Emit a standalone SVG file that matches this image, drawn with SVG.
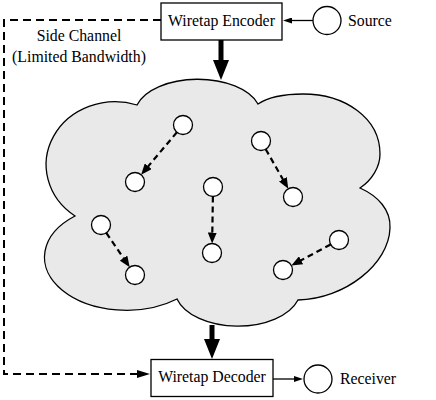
<svg xmlns="http://www.w3.org/2000/svg" width="436" height="400" viewBox="0 0 436 400">
<style>
  text { font-family: "Liberation Serif", "Times New Roman", serif; font-size: 15.8px; fill: #000; }
  .box { fill: #fff; stroke: #000; stroke-width: 1.3; }
  .node { fill: #fff; stroke: #000; stroke-width: 1.3; }
  .cloud { fill: #e9e9e9; stroke: #000; stroke-width: 1.3; }
  .thick { stroke: #000; stroke-width: 5; fill: none; }
  .side { stroke: #000; stroke-width: 2; fill: none; stroke-dasharray: 8 5; }
  .inner { stroke: #000; stroke-width: 2.2; fill: none; stroke-dasharray: 6 4; }
  .thin { stroke: #000; stroke-width: 1.3; fill: none; }
</style>
<defs>
  <marker id="big" markerUnits="userSpaceOnUse" viewBox="0 0 20 16" markerWidth="20" markerHeight="16" refX="6" refY="8" orient="auto">
    <path d="M0,0 L20,8 L0,16 z" fill="#000"/>
  </marker>
  <marker id="med" markerUnits="userSpaceOnUse" viewBox="0 0 13 8" markerWidth="13" markerHeight="8" refX="7" refY="4" orient="auto">
    <path d="M0,0 L13,4 L0,8 z" fill="#000"/>
  </marker>
  <marker id="small" markerUnits="userSpaceOnUse" viewBox="0 0 11 9" markerWidth="11" markerHeight="9" refX="7" refY="4.5" orient="auto">
    <path d="M0,0 L11,4.5 L0,9 z" fill="#000"/>
  </marker>
  <marker id="thinhead" markerUnits="userSpaceOnUse" viewBox="0 0 9 6" markerWidth="9" markerHeight="6" refX="5" refY="3" orient="auto">
    <path d="M0,0 L9,3 L0,6 z" fill="#000"/>
  </marker>
</defs>

<g id="network">
  <path class="cloud" d="M137,105 A63,35 0 0 1 258,104 C270,96 285,94 303,94 C345,94 380,118 380,154 C380,167 372,180 360,188 C378,196 391,210 390,228 C389,264 345,299 298,300 A63,37 0 0 1 177,299 A82,53 0 0 1 75,216 A69,63 0 0 1 137,105 Z"/>
</g>

<g id="connectors">
  <path class="side" d="M161,20 H4 V374 H144" marker-end="url(#med)"/>
  <line class="thick" x1="221" y1="40" x2="221" y2="66" marker-end="url(#big)"/>
  <line class="thick" x1="212" y1="325" x2="212" y2="345" marker-end="url(#big)"/>
  <line class="thin" x1="313" y1="20.5" x2="287" y2="20.5" marker-end="url(#thinhead)"/>
  <line class="thin" x1="273" y1="379" x2="299" y2="379" marker-end="url(#thinhead)"/>
  <line class="inner" x1="176.9" y1="132.3" x2="143.7" y2="171.6" marker-end="url(#small)"/>
  <line class="inner" x1="265.7" y1="149.2" x2="286.3" y2="185.3" marker-end="url(#small)"/>
  <line class="inner" x1="212.9" y1="196.5" x2="212.2" y2="239.5" marker-end="url(#small)"/>
  <line class="inner" x1="106.3" y1="232.8" x2="127.5" y2="263.9" marker-end="url(#small)"/>
  <line class="inner" x1="330.6" y1="244.5" x2="294.9" y2="263.6" marker-end="url(#small)"/>
</g>

<g id="encoder">
  <rect class="box" x="161" y="3" width="121" height="37"/>
  <text x="221.5" y="25.5" text-anchor="middle">Wiretap Encoder</text>
</g>
<g id="decoder">
  <rect class="box" x="151" y="359.5" width="122" height="37"/>
  <text x="212" y="381.5" text-anchor="middle">Wiretap Decoder</text>
</g>
<g id="source">
  <circle class="node" cx="327" cy="20.5" r="14"/>
  <text x="348" y="25.5">Source</text>
</g>
<g id="receiver">
  <circle class="node" cx="318" cy="379" r="14"/>
  <text x="340" y="384">Receiver</text>
</g>
<g id="side-channel-label">
  <text x="79" y="41" text-anchor="middle">Side Channel</text>
  <text x="79" y="62" text-anchor="middle">(Limited Bandwidth)</text>
</g>

<g id="n1"><circle class="node" cx="183" cy="125" r="9.5"/></g>
<g id="n2"><circle class="node" cx="135" cy="182" r="9.5"/></g>
<g id="n3"><circle class="node" cx="261" cy="141" r="9.5"/></g>
<g id="n4"><circle class="node" cx="293" cy="197" r="9.5"/></g>
<g id="n5"><circle class="node" cx="213" cy="187" r="9.5"/></g>
<g id="n6"><circle class="node" cx="212" cy="253" r="9.5"/></g>
<g id="n7"><circle class="node" cx="101" cy="225" r="9.5"/></g>
<g id="n8"><circle class="node" cx="135" cy="275" r="9.5"/></g>
<g id="n9"><circle class="node" cx="339" cy="240" r="9.5"/></g>
<g id="n10"><circle class="node" cx="283" cy="270" r="9.5"/></g>
</svg>
